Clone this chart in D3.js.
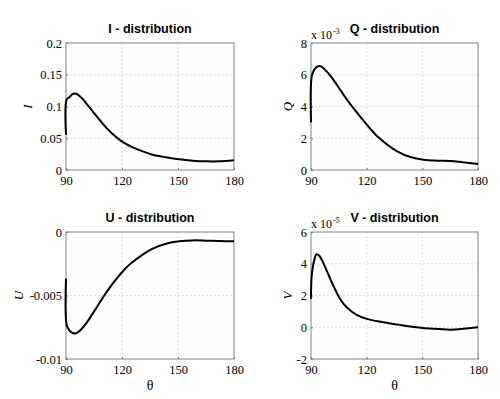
<!DOCTYPE html>
<html>
<head>
<meta charset="utf-8">
<script src="https://cdn.jsdelivr.net/npm/d3@7"></script>
<style>
  body { margin: 0; background: #fff; }
  svg text { font-family: "Liberation Serif", "Times New Roman", serif; fill: #000; }
  svg text.title { font-family: "Liberation Sans", Arial, sans-serif; font-weight: bold; }
</style>
</head>
<body>
<svg id="chart" width="500" height="399"></svg>
<script>
'use strict';

// x ticks shared by all four panels
const thetaTicks = [90, 120, 150, 180];

// I - distribution
const thetaI = [90, 90.4, 91.8, 93.6, 95.4, 97.1, 98.9, 100.7, 104.3, 107.9, 111.4, 115, 118.6, 122.1, 125.7, 131.1, 136.4, 143.6, 150.7, 157.9, 165, 172.1, 180];
const valuesI = [0.0556, 0.1115, 0.1144, 0.1197, 0.1200, 0.117, 0.112, 0.1055, 0.0924, 0.0793, 0.0672, 0.0567, 0.0478, 0.041, 0.0357, 0.0294, 0.0241, 0.020, 0.0168, 0.0147, 0.0136, 0.0136, 0.0152];
const ticksI = [0, 0.05, 0.1, 0.15, 0.2];

// Q - distribution (x 10^-3)
const thetaQ = [90, 90.4, 91.8, 93.6, 95.4, 97.1, 100.7, 104.3, 107.9, 111.4, 115, 118.6, 122.1, 125.7, 131.1, 136.4, 143.6, 150.7, 157.9, 165, 172.1, 180];
const valuesQ = [3.0, 5.9, 6.32, 6.53, 6.53, 6.37, 5.9, 5.31, 4.68, 4.12, 3.59, 3.07, 2.58, 2.12, 1.60, 1.18, 0.82, 0.65, 0.59, 0.57, 0.48, 0.38];
const ticksQ = [0, 2, 4, 6, 8];

// U - distribution
const thetaU = [90, 90.4, 91.8, 93.6, 95.4, 97.1, 100.7, 104.3, 107.9, 111.4, 115, 118.6, 122.1, 125.7, 131.1, 136.4, 143.6, 150.7, 157.9, 165, 172.1, 180];
const valuesU = [-0.00367, -0.00735, -0.00774, -0.00795, -0.00798, -0.00782, -0.00722, -0.00643, -0.00559, -0.0048, -0.00407, -0.00341, -0.00283, -0.00236, -0.00178, -0.00131, -0.00092, -0.00073, -0.00066, -0.00068, -0.00071, -0.00073];
const ticksU = [-0.01, -0.005, 0];

// V - distribution (x 10^-5)
const thetaV = [90, 90.4, 91.5, 93, 94.5, 96, 98.4, 100, 102, 105.6, 109.2, 114.6, 120, 129, 138, 147, 156, 165, 172, 180];
const valuesV = [1.8, 3.3, 4.1, 4.6, 4.5, 4.2, 3.58, 3.15, 2.63, 1.8, 1.26, 0.78, 0.53, 0.32, 0.15, 0.0, -0.1, -0.15, -0.1, 0.0];
const ticksV = [-2, 0, 2, 4, 6];

const svg = d3.select("#chart");

function drawPanel(p) {
	let x = d3.scaleLinear().domain([90, 180]).range([p.left, p.right]);
	let y = d3.scaleLinear().domain(p.domain).range([p.bottom, p.top]);
	let g = svg.append("g");

	g.append("rect")
		.attr("x", p.left).attr("y", p.top)
		.attr("width", p.right - p.left).attr("height", p.bottom - p.top)
		.attr("fill", "#fefefe");

	// grid
	g.selectAll(".gx").data(thetaTicks.slice(1, -1)).enter().append("line")
		.attr("x1", d => x(d)).attr("x2", d => x(d))
		.attr("y1", p.top).attr("y2", p.bottom)
		.attr("stroke", "#d8d8d8").attr("stroke-width", 0.8).attr("stroke-dasharray", "2,2");
	g.selectAll(".gy").data(p.ticks.slice(1, -1)).enter().append("line")
		.attr("x1", p.left).attr("x2", p.right)
		.attr("y1", d => y(d)).attr("y2", d => y(d))
		.attr("stroke", "#d8d8d8").attr("stroke-width", 0.8).attr("stroke-dasharray", "2,2");

	// axes (ticks inside, like matlab)
	g.append("g")
		.attr("transform", "translate(0," + p.bottom + ")")
		.call(d3.axisBottom(x).tickValues(thetaTicks).tickSize(-2).tickPadding(6).tickFormat(d3.format("d")))
		.call(a => a.attr("font-family", null))
		.call(a => a.select(".domain").remove())
		.call(a => a.selectAll("line").attr("stroke", "#777"))
		.call(a => a.selectAll("text").style("font-size", "12.5px").style("font-family", "'Liberation Serif', serif"));
	g.append("g")
		.attr("transform", "translate(" + p.left + ",0)")
		.call(d3.axisLeft(y).tickValues(p.ticks).tickSize(-2).tickPadding(4).tickFormat(p.fmt))
		.call(a => a.attr("font-family", null))
		.call(a => a.select(".domain").remove())
		.call(a => a.selectAll("line").attr("stroke", "#777"))
		.call(a => a.selectAll("text").style("font-size", "12.5px").style("font-family", "'Liberation Serif', serif"));

	g.append("rect")
		.attr("x", p.left).attr("y", p.top)
		.attr("width", p.right - p.left).attr("height", p.bottom - p.top)
		.attr("fill", "none").attr("stroke", "#808080").attr("stroke-width", 1);

	// curve
	let line = d3.line()
		.x(d => x(d[0]))
		.y(d => y(d[1]))
		.curve(d3.curveCatmullRom.alpha(0.5));
	g.append("path")
		.datum(d3.zip(p.theta, p.values))
		.attr("d", line)
		.attr("fill", "none").attr("stroke", "#000").attr("stroke-width", 2);

	// title
	g.append("text").attr("class", "title")
		.attr("x", (p.left + p.right) / 2).attr("y", p.top - 10)
		.attr("text-anchor", "middle").style("font-size", "12.5px")
		.text(p.title);

	// y label
	g.append("text")
		.attr("transform", "translate(" + (p.left - p.ylabOff) + "," + ((p.top + p.bottom) / 2) + ") rotate(-90)")
		.attr("text-anchor", "middle").style("font-style", "italic").style("font-size", "13px")
		.text(p.ylabel);

	// exponent
	if (p.exp) {
		let t = g.append("text").attr("x", p.left).attr("y", p.top - 4).style("font-size", "12px");
		t.append("tspan").text("x 10");
		t.append("tspan").attr("dy", -5).attr("dx", 1).style("font-size", "8px").text(p.exp);
	}

	// x label
	if (p.xlabel) {
		g.append("text")
			.attr("x", (p.left + p.right) / 2).attr("y", p.bottom + 31)
			.attr("text-anchor", "middle").style("font-size", "14px")
			.text("θ");
	}
}

const fmtPlain = d => d === 0 ? "0" : String(d);

drawPanel({ left: 66, right: 234, top: 43, bottom: 170, domain: [0, 0.2], ticks: ticksI, fmt: fmtPlain,
	theta: thetaI, values: valuesI, title: "I - distribution", ylabel: "I", ylabOff: 34 });
drawPanel({ left: 311, right: 478, top: 43, bottom: 170, domain: [0, 8], ticks: ticksQ, fmt: fmtPlain,
	theta: thetaQ, values: valuesQ, title: "Q - distribution", ylabel: "Q", ylabOff: 19, exp: "-3" });
drawPanel({ left: 66, right: 234, top: 232, bottom: 359, domain: [-0.01, 0], ticks: ticksU, fmt: fmtPlain,
	theta: thetaU, values: valuesU, title: "U - distribution", ylabel: "U", ylabOff: 43, xlabel: true });
drawPanel({ left: 311, right: 478, top: 232, bottom: 359, domain: [-2, 6], ticks: ticksV, fmt: fmtPlain,
	theta: thetaV, values: valuesV, title: "V - distribution", ylabel: "V", ylabOff: 19, exp: "-5", xlabel: true });
</script>
</body>
</html>
